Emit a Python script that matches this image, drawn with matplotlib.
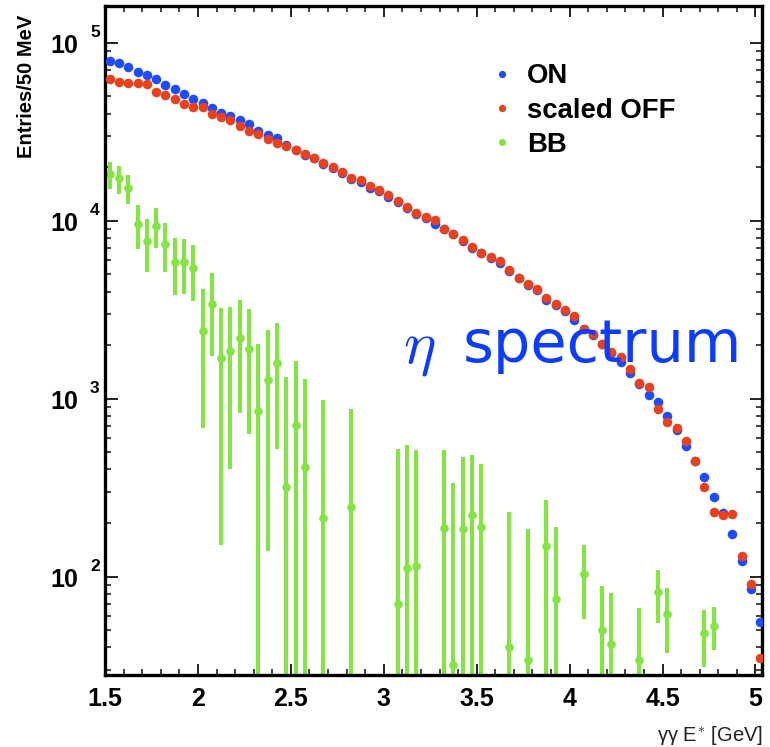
import numpy as np
import matplotlib
matplotlib.use("Agg")
import matplotlib.pyplot as plt
from matplotlib.lines import Line2D
from matplotlib.ticker import FixedLocator, NullFormatter
import matplotlib.transforms as mtransforms

plt.rcParams["mathtext.fontset"] = "cm"

# gamma-gamma energy spectrum, 50 MeV bins starting at 1.5 GeV
bin_lo = 1.5
bin_width = 0.05

on_counts = [79200, 77170, 73280, 68700, 65560, 62500, 58050, 54690, 51270, 48420,
             45970, 43090, 40390, 38700, 36610, 34760, 31870, 30270, 29230, 26580,
             24920, 23360, 22460, 20920, 19740, 18500, 17120, 16570, 15330, 14650,
             13560, 12700, 11760, 10880, 10330, 9620, 8960, 8400, 7670, 7000,
             6565, 6155, 5768, 5234, 4750, 4336, 4066, 3572, 3347, 3097,
             2757, 2476, 2285, 2020, 1798, 1606, 1393, 1203, 1053, 957,
             798, 669, 539, 444, 362, 282, 227, 172.5, 123, 85.4,
             55.4]

off_scaled = [62270, 60370, 59130, 59570, 58350, 53030, 50800, 48240, 45390, 43320,
              43320, 39560, 38200, 36610, 34010, 32000, 30660, 28620, 27180, 26240,
              24920, 23570, 22610, 21060, 19990, 18870, 17340, 16900, 15690, 14840,
              13910, 12900, 11910, 11090, 10530, 10130, 9040, 8470, 7770, 7140,
              6590, 6275, 5957, 5268, 4792, 4395, 4146, 3698, 3392, 3168,
              2903, 2454, 2300, 2038, 1833, 1714, 1475, 1219, 1162, 878.5,
              735.7, 685, 577.4, 445.7, 318.3, 230.2, 223.4, 225.5, 131.4, 91.1,
              34.9]

# BB expectation per bin (0 = empty bin) and its uncertainty
bb_counts = [18300, 17300, 15200, 9600, 7650, 9400, 7440, 5900, 5900, 5400,
             2400, 3400, 1700, 1850, 2200, 1910, 850, 1280, 1594, 318,
             708, 413, 0, 213, 0, 0, 246, 0, 0, 0,
             0, 70, 112, 115, 0, 0, 188, 32, 184, 223,
             190, 0, 0, 40, 0, 34, 0, 148, 75, 0,
             0, 104, 0, 50, 42, 0, 0, 34, 0, 81.5,
             62, 0, 0, 0, 48, 53, 0, 0, 0, 0,
             0]
bb_err = [3200, 3100, 2800, 2650, 2530, 2370, 2280, 2065, 2015, 1880,
          1720, 1665, 1550, 1445, 1370, 1280, 1190, 1140, 1070, 1005,
          920, 880, 0, 775, 0, 0, 633, 0, 0, 0,
          0, 454, 434, 402, 0, 0, 324, 303, 285, 257,
          241, 0, 0, 192, 0, 150, 0, 122, 116, 0,
          0, 46, 0, 39, 39, 0, 0, 33, 0, 26.8,
          24.7, 0, 0, 0, 16.8, 14.5, 0, 0, 0, 0,
          0]

legend_labels = ["ON", "scaled OFF", "BB"]
x_ticks = [1.5, 2, 2.5, 3, 3.5, 4, 4.5, 5]
x_ticklabels = ["1.5", "2", "2.5", "3", "3.5", "4", "4.5", "5"]
y_decades = [2, 3, 4, 5]

c_on = "#1f4cff"
c_off = "#e8411e"
c_bb = "#84e444"
c_text = "#0b3cff"

centers = bin_lo + bin_width * (np.arange(len(on_counts)) + 0.5)
bb = np.array(bb_counts, float)
bbe = np.array(bb_err, float)
filled = bb > 0

fig = plt.figure(figsize=(7.7, 7.47), dpi=100)
W, H = 770, 747
ax = fig.add_axes([105 / W, 1 - 675 / H, (762 - 105) / W, (675 - 5.5) / H])
ax.set_yscale("log", nonpositive="clip")
ax.set_xlim(1.5, 5.035)
ax.set_ylim(28.0, 1.62e5)

# BB with error bars (lower bars can run off the bottom of the log axis)
lo = np.minimum(bbe[filled], bb[filled] * 0.9999)
ax.errorbar(centers[filled], bb[filled], yerr=[lo, bbe[filled]], fmt="o",
            color=c_bb, ms=6.2, elinewidth=2.9, capsize=0, mew=0, zorder=2)
ax.plot(centers, on_counts, "o", color=c_on, ms=6.9, mew=0, zorder=3, clip_on=True)
ax.plot(centers, off_scaled, "o", color=c_off, ms=6.9, mew=0, zorder=4, clip_on=True)

# frame and ticks
for sp in ax.spines.values():
    sp.set_linewidth(2.4)
ax.xaxis.set_major_locator(FixedLocator(x_ticks))
ax.xaxis.set_minor_locator(FixedLocator(np.arange(1.5, 5.04, 0.1)))
ax.set_xticklabels(x_ticklabels)
ax.tick_params(axis="both", which="both", direction="in", top=True, right=True, color="#222222")
ax.tick_params(axis="x", which="major", length=8, width=1.4, pad=9)
ax.tick_params(axis="x", which="minor", length=4, width=1.2)
ax.tick_params(axis="y", which="major", length=9, width=1.4)
ax.tick_params(axis="y", which="minor", length=4.5, width=1.2)
for lab in ax.get_xticklabels():
    lab.set_fontfamily("Liberation Sans")
    lab.set_fontweight("bold")
    lab.set_fontsize(18)
ax.yaxis.set_major_locator(FixedLocator([10.0 ** d for d in y_decades]))
ax.yaxis.set_minor_locator(FixedLocator(
    [m * 10.0 ** d for d in [1, 2, 3, 4, 5] for m in range(2, 10)]))
ax.yaxis.set_major_formatter(NullFormatter())
ax.yaxis.set_minor_formatter(NullFormatter())

# decade labels drawn as "10" with a raised exponent
ytrans = ax.get_yaxis_transform()
base_tr = mtransforms.offset_copy(ytrans, fig=fig, x=0, y=-3, units="dots")
exp_tr = mtransforms.offset_copy(ytrans, fig=fig, x=0, y=10, units="dots")
for d in y_decades:
    ax.text(-27 / 657, 10.0 ** d, "10", transform=base_tr, ha="right", va="center",
            fontfamily="Liberation Sans", fontweight="bold", fontsize=18)
    ax.text(-15 / 657, 10.0 ** d, str(d), transform=exp_tr, ha="left", va="center",
            fontfamily="Liberation Sans", fontweight="bold", fontsize=12.5)

# axis titles
fig.text(27 / W, 1 - 86 / H, "Entries/50 MeV", rotation=90, ha="center", va="center",
         fontfamily="Liberation Sans", fontweight="bold", fontsize=14.5)
fig.text(763 / W, 1 - 741 / H, r"γγ E$^{*}$ [GeV]", ha="right", va="baseline",
         fontfamily="Liberation Sans", fontsize=14.5, color="#222222")

# legend
handles = [Line2D([], [], ls="none", marker="o", ms=5.2, mew=0, color=c)
           for c in (c_on, c_off, c_bb)]
ax.legend(handles, legend_labels, loc="upper left", bbox_to_anchor=(0.571, 0.934),
          frameon=False, borderpad=0, handlelength=0.6, handletextpad=0.6,
          labelspacing=0.3,
          prop={"family": "Liberation Sans", "weight": "bold", "size": 19.8})

# channel annotation
fig.text(403 / W, 1 - 362 / H, r"$\eta$", ha="left", va="baseline",
         fontsize=44, color=c_text)
fig.text(463 / W, 1 - 362 / H, "spectrum", ha="left", va="baseline",
         fontfamily="DejaVu Sans", fontsize=42.5, color=c_text)

fig.savefig("out.png", dpi=100)
